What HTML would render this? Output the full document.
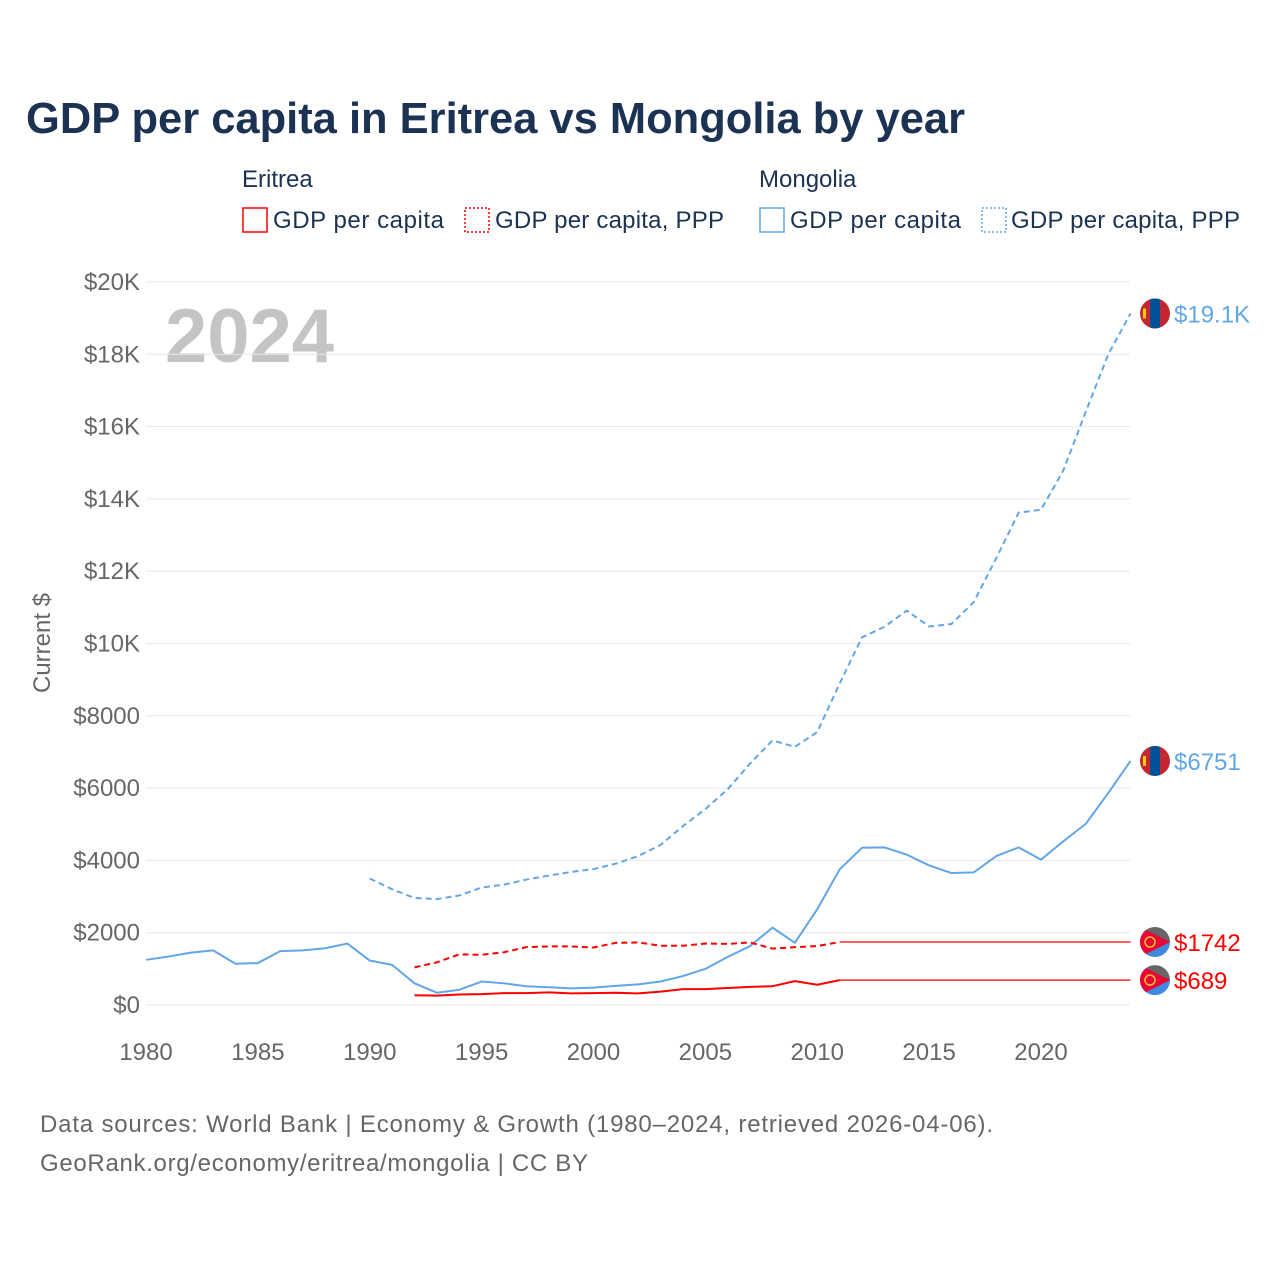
<!DOCTYPE html>
<html><head><meta charset="utf-8"><style>
body{margin:0;background:#fff;font-family:"Liberation Sans",sans-serif;}
</style></head><body>
<svg width="1280" height="1280" xmlns="http://www.w3.org/2000/svg" font-family="Liberation Sans, sans-serif">
<text x="26" y="133" font-size="44" font-weight="bold" fill="#1b3252" textLength="939" lengthAdjust="spacingAndGlyphs">GDP per capita in Eritrea vs Mongolia by year</text>
<g font-size="24" fill="#1b3252">
<text x="242" y="187">Eritrea</text>
<text x="759" y="187">Mongolia</text>
<g><rect x="243" y="208" width="24" height="24" fill="none" stroke="#f00" stroke-width="1.5"/><text x="273" y="228" textLength="171">GDP per capita</text></g>
<g><rect x="465" y="208" width="24" height="24" fill="none" stroke="#f00" stroke-width="1.5" stroke-dasharray="2,2"/><text x="495" y="228" textLength="229">GDP per capita, PPP</text></g>
<g><rect x="760" y="208" width="24" height="24" fill="none" stroke="#62a6e8" stroke-width="1.5"/><text x="790" y="228" textLength="171">GDP per capita</text></g>
<g><rect x="982" y="208" width="24" height="24" fill="none" stroke="#62a6e8" stroke-width="1.5" stroke-dasharray="2,2"/><text x="1011" y="228" textLength="229">GDP per capita, PPP</text></g>
</g>
<text x="165" y="362" font-size="76" font-weight="bold" fill="#c4c4c4">2024</text>
<text transform="translate(50,643) rotate(-90)" text-anchor="middle" font-size="24" fill="#666">Current $</text>
<g id="grid"></g><g id="series"></g><g id="labels"></g>
<text x="40" y="1132" font-size="24" fill="#666" textLength="953">Data sources: World Bank | Economy &amp; Growth (1980–2024, retrieved 2026-04-06).</text>
<text x="40" y="1171" font-size="24" fill="#666" textLength="548">GeoRank.org/economy/eritrea/mongolia | CC BY</text>
</svg>
<script>
const yTickValues=[0,2000,4000,6000,8000,10000,12000,14000,16000,18000,20000];
const yTickLabels=["$0","$2000","$4000","$6000","$8000","$10K","$12K","$14K","$16K","$18K","$20K"];
const xTickValues=[1980,1985,1990,1995,2000,2005,2010,2015,2020];
const mnYears=[1980,1981,1982,1983,1984,1985,1986,1987,1988,1989,1990,1991,1992,1993,1994,1995,1996,1997,1998,1999,2000,2001,2002,2003,2004,2005,2006,2007,2008,2009,2010,2011,2012,2013,2014,2015,2016,2017,2018,2019,2020,2021,2022,2023,2024];
const mnGdp=[1250,1340,1450,1510,1140,1160,1490,1510,1570,1700,1230,1110,600,340,420,650,600,520,490,460,480,530,570,650,800,1000,1330,1630,2140,1720,2650,3750,4350,4360,4160,3860,3650,3670,4120,4360,4020,4530,5010,5860,6751];
const mnPppYears=[1990,1991,1992,1993,1994,1995,1996,1997,1998,1999,2000,2001,2002,2003,2004,2005,2006,2007,2008,2009,2010,2011,2012,2013,2014,2015,2016,2017,2018,2019,2020,2021,2022,2023,2024];
const mnPpp=[3500,3200,2960,2930,3030,3250,3330,3470,3580,3680,3760,3910,4120,4430,4950,5420,5970,6680,7320,7140,7550,8890,10170,10460,10910,10470,10540,11150,12360,13620,13700,14790,16410,17990,19130];
const erYears=[1992,1993,1994,1995,1996,1997,1998,1999,2000,2001,2002,2003,2004,2005,2006,2007,2008,2009,2010,2011];
const erGdp=[270,260,290,300,330,330,350,320,330,340,320,370,440,440,470,500,520,660,560,689];
const erPpp=[1040,1180,1400,1390,1460,1600,1620,1620,1590,1720,1730,1640,1640,1700,1690,1730,1560,1600,1630,1742];
const endYear=2024;
const endLabels=["$19.1K","$6751","$1742","$689"];

const NS="http://www.w3.org/2000/svg";
const X=y=>146+(y-1980)*(1041-146)/40;
const Y=v=>1005-v*(1005-282)/20000;
function mk(tag,attrs,parent){const e=document.createElementNS(NS,tag);for(const k in attrs)e.setAttribute(k,attrs[k]);parent.appendChild(e);return e;}
const grid=document.getElementById('grid'),ser=document.getElementById('series'),lab=document.getElementById('labels');
yTickValues.forEach((v,i)=>{
  const l=mk('line',{x1:146,x2:1130,y1:Y(v),y2:Y(v),stroke:'#e8e8e8','stroke-width':1},grid);
  
  
  const t=mk('text',{x:140,y:Y(v)+8,'text-anchor':'end','font-size':24,fill:'#666'},grid);
  t.textContent=yTickLabels[i];
  
  
});
xTickValues.forEach(v=>{
  const t=mk('text',{x:X(v),y:1060,'text-anchor':'middle','font-size':24,fill:'#666'},grid);
  t.textContent=v;
  
  
});
function line(xs,vs,color,dash,name,w){
  const p=mk('polyline',{points:xs.map((x,i)=>X(x)+','+Y(vs[i])).join(' '),fill:'none',stroke:color,'stroke-width':w||2,'stroke-dasharray':dash||'none','stroke-linejoin':'round'},ser);
  
  
}
line(mnPppYears,mnPpp,'#62a6e8','6,4','line-mongolia-ppp');
line(mnYears,mnGdp,'#62a6e8',null,'line-mongolia-gdp');
line(erYears,erPpp,'#f00','6,4','line-eritrea-ppp');
line(erYears,erGdp,'#f00',null,'line-eritrea-gdp');
line([erYears[erYears.length-1],endYear],[erPpp[erPpp.length-1],erPpp[erPpp.length-1]],'#f00',null,'line-eritrea-ppp-extension',1.2);
line([erYears[erYears.length-1],endYear],[erGdp[erGdp.length-1],erGdp[erGdp.length-1]],'#f00',null,'line-eritrea-gdp-extension',1.2);
const endVals=[mnPpp[mnPpp.length-1],mnGdp[mnGdp.length-1],erPpp[erPpp.length-1],erGdp[erGdp.length-1]];
const endColors=['#62a6e8','#62a6e8','#f00','#f00'];
const cx=1155;
endVals.forEach((v,i)=>{
  const cy=Y(v),g=mk('g',{},lab);
  
  
  const id='c'+i;
  const cp=mk('clipPath',{id:id},g);mk('circle',{cx:cx,cy:cy,r:15},cp);
  const f=mk('g',{'clip-path':'url(#'+id+')'},g);
  if(i<2){
    mk('rect',{x:cx-15,y:cy-15,width:30,height:30,fill:'#c4272f'},f);
    mk('rect',{x:cx-5,y:cy-15,width:10,height:30,fill:'#015197'},f);
    mk('rect',{x:cx-12,y:cy-5,width:3,height:10,fill:'#f9cf02'},f);
  }else{
    mk('rect',{x:cx-15,y:cy-15,width:30,height:15,fill:'#666'},f);
    mk('rect',{x:cx-15,y:cy,width:30,height:15,fill:'#4189dd'},f);
    mk('polygon',{points:(cx-15)+','+(cy-15)+' '+(cx+15)+','+cy+' '+(cx-15)+','+(cy+15),fill:'#ea0437'},f);
    mk('circle',{cx:cx-5,cy:cy,r:5,fill:'none',stroke:'#ffc726','stroke-width':1.5},f);
  }
  const t=mk('text',{x:1174,y:cy+9,'font-size':24,fill:endColors[i]},lab);
  t.textContent=endLabels[i];
  
  
});
</script>
</body></html>
